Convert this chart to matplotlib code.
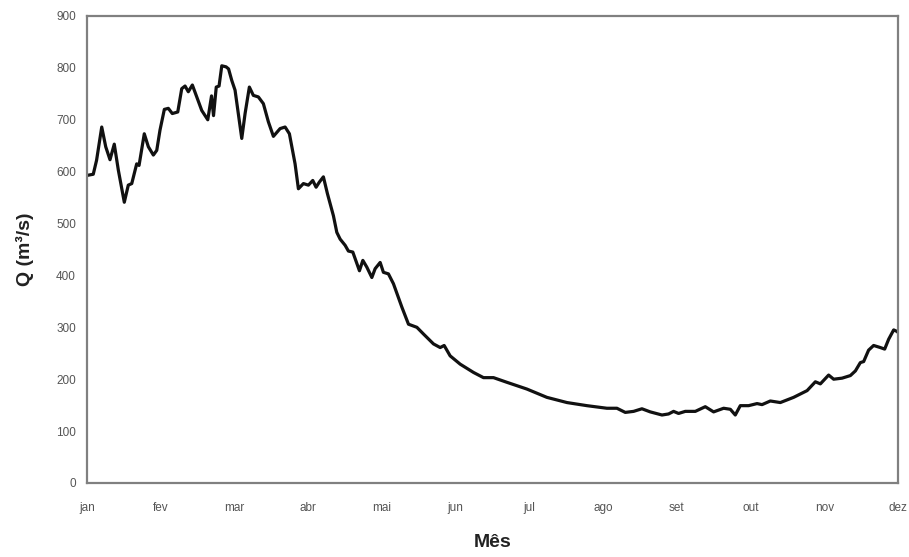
import matplotlib
matplotlib.use("Agg")
import matplotlib.pyplot as plt

plt.rcParams['font.family'] = ['Liberation Sans', 'DejaVu Sans']

# Time position in months since 1 Jan (jan = 0 ... dez = 11)
t_month = [0.01, 0.085, 0.13, 0.20, 0.254, 0.312, 0.37, 0.425, 0.506, 0.56,
           0.607, 0.674, 0.706, 0.777, 0.832, 0.90, 0.946, 0.99, 1.049, 1.103,
           1.157, 1.231, 1.285, 1.33, 1.374, 1.429, 1.488, 1.556, 1.638, 1.689,
           1.716, 1.753, 1.791, 1.828, 1.886, 1.92, 1.963, 2.008, 2.039, 2.099,
           2.144, 2.202, 2.256, 2.324, 2.392, 2.46, 2.528, 2.619, 2.687, 2.745,
           2.822, 2.867, 2.935, 3.003, 3.062, 3.107, 3.152, 3.206, 3.26, 3.342,
           3.388, 3.433, 3.501, 3.545, 3.605, 3.695, 3.741, 3.795, 3.863, 3.908,
           3.976, 4.02, 4.088, 4.156, 4.27, 4.36, 4.474, 4.564, 4.699, 4.79,
           4.844, 4.925, 5.061, 5.152, 5.242, 5.377, 5.513, 5.695, 5.966, 6.237,
           6.509, 6.78, 7.051, 7.187, 7.3, 7.413, 7.526, 7.639, 7.798, 7.887,
           7.955, 8.023, 8.114, 8.25, 8.385, 8.498, 8.634, 8.725, 8.792, 8.86,
           8.973, 9.087, 9.155, 9.267, 9.403, 9.583, 9.766, 9.878, 9.946, 10.058,
           10.126, 10.24, 10.353, 10.421, 10.488, 10.533, 10.6, 10.668, 10.759, 10.818,
           10.872, 10.94, 10.986, 11.0]

# Discharge Q (m3/s)
q_values = [593, 595, 622, 686, 648, 623, 653, 603, 541, 574,
            577, 615, 612, 673, 648, 632, 641, 680, 720, 722,
            712, 715, 760, 765, 754, 767, 744, 718, 700, 746,
            708, 763, 765, 804, 802, 798, 776, 757, 725, 664,
            712, 763, 747, 744, 731, 696, 668, 683, 686, 673,
            615, 567, 577, 574, 583, 570, 580, 590, 558, 515,
            483, 470, 458, 447, 445, 409, 429, 416, 396, 413,
            425, 406, 403, 384, 339, 306, 300, 287, 268, 261,
            265, 245, 229, 221, 213, 203, 203, 194, 181, 165,
            155, 149, 144, 144, 136, 138, 143, 137, 131, 133,
            138, 134, 138, 138, 147, 137, 144, 142, 131, 149,
            149, 153, 151, 158, 155, 165, 178, 195, 191, 208,
            200, 202, 207, 216, 232, 234, 256, 265, 261, 258,
            277, 295, 292, 290]

month_labels = ['jan', 'fev', 'mar', 'abr', 'mai', 'jun', 'jul', 'ago',
                'set', 'out', 'nov', 'dez']
y_ticks = [0, 100, 200, 300, 400, 500, 600, 700, 800, 900]

fig = plt.figure(figsize=(9.09, 5.57), dpi=100)
ax = fig.add_axes([0.0957, 0.1329, 0.8923, 0.8384])

ax.plot(t_month, q_values, color='#111111', linewidth=2.3,
        solid_joinstyle='round', solid_capstyle='round')

ax.set_xlim(0, 11)
ax.set_ylim(0, 900)
ax.set_xticks(range(len(month_labels)))
ax.set_xticklabels(month_labels)
ax.set_yticks(y_ticks)
ax.tick_params(axis='both', length=0, labelsize=8.5, labelcolor='#555555')
ax.tick_params(axis='x', pad=14)
ax.tick_params(axis='y', pad=8)

for s in ax.spines.values():
    s.set_color('#808080')
    s.set_linewidth(1.6)

ax.set_ylabel('Q (m³/s)', fontsize=14, fontweight='bold', color='#222222', labelpad=16)
ax.set_xlabel('Mês', fontsize=14, fontweight='bold', color='#222222', labelpad=14)

fig.savefig('out.png', dpi=100)
